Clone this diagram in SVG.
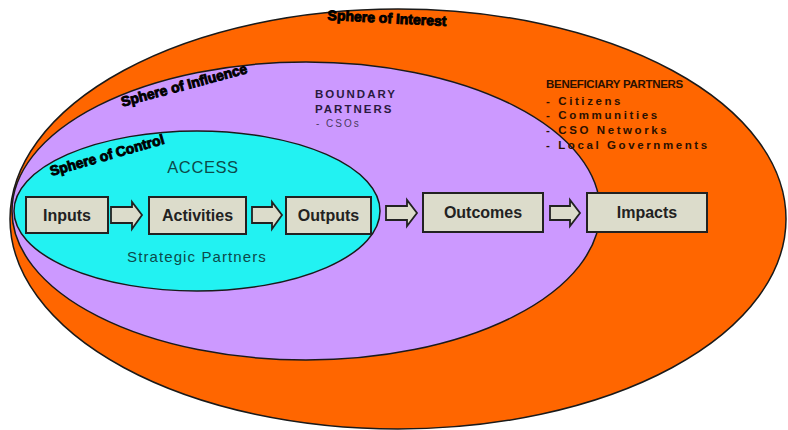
<svg xmlns="http://www.w3.org/2000/svg" width="788" height="430" viewBox="0 0 788 430">
<defs>
<style>
.sphere{stroke:#1a1a1a;stroke-width:1.5}
.box{fill:#dcdccb;stroke:#222;stroke-width:2}
.blbl{font-family:"Liberation Sans",Arial,sans-serif;font-size:16px;font-weight:bold;fill:#222;text-anchor:middle}
.arr{fill:#dcdccb;stroke:#222;stroke-width:1.8;stroke-linejoin:miter}
.curve{font-family:"Liberation Sans",Arial,sans-serif;font-size:14px;font-weight:bold;fill:#000;stroke:#000;stroke-width:0.9;text-anchor:middle}
.teal{font-family:"Liberation Sans",Arial,sans-serif;fill:#0c4a4a;text-anchor:middle}
.bp{font-family:"Liberation Sans",Arial,sans-serif;font-weight:bold;fill:#2a1a40;letter-spacing:2px;font-size:11.5px}
.ben{font-family:"Liberation Sans",Arial,sans-serif;font-weight:bold;fill:#2a1000;font-size:11.5px}
</style>
</defs>
<rect width="788" height="430" fill="#ffffff"/>
<g id="sphere-interest">
<ellipse class="sphere" cx="398" cy="219" rx="388" ry="210" fill="#ff6600"/>
<text class="curve" x="387" y="23" font-size="14.5" transform="rotate(3 387 18)">Sphere of Interest</text>
</g>
<g id="sphere-influence">
<ellipse class="sphere" cx="306" cy="211" rx="294" ry="149" fill="#cc99ff"/>
<text class="curve" x="184" y="90" transform="rotate(-15 184 85)">Sphere of Influence</text>
</g>
<g id="sphere-control">
<ellipse class="sphere" cx="197" cy="211" rx="183" ry="80" fill="#22f2f2" stroke="#0a3a5a"/>
<text class="curve" x="107" y="160" font-size="14.5" transform="rotate(-16 107 155)">Sphere of Control</text>
</g>
<g id="access-label"><text class="teal" x="203" y="173" font-size="16.5" letter-spacing="0.6">ACCESS</text></g>
<g id="strategic-label"><text class="teal" x="197" y="262" font-size="15" letter-spacing="1.1">Strategic Partners</text></g>
<g id="boundary-partners">
<text class="bp" x="315" y="98">BOUNDARY</text>
<text class="bp" x="315" y="113">PARTNERS</text>
<text x="316" y="127" font-family="'Liberation Sans',Arial,sans-serif" font-size="10" fill="#4a3a60" letter-spacing="2">- CSOs</text>
</g>
<g id="beneficiary-partners">
<text class="ben" x="546" y="88" font-size="12" letter-spacing="-0.3">BENEFICIARY PARTNERS</text>
<text class="ben" x="546" y="105" letter-spacing="2.6">- Citizens</text>
<text class="ben" x="546" y="119" letter-spacing="2.6">- Communities</text>
<text class="ben" x="546" y="134" letter-spacing="2.6">- CSO Networks</text>
<text class="ben" x="546" y="149" letter-spacing="2.6">- Local Governments</text>
</g>
<g id="inputs"><rect class="box" x="26" y="197" width="82" height="36"/><text class="blbl" x="67" y="221">Inputs</text></g>
<g id="activities"><rect class="box" x="149" y="197" width="97" height="37"/><text class="blbl" x="197.5" y="221">Activities</text></g>
<g id="outputs"><rect class="box" x="286" y="197" width="85" height="37"/><text class="blbl" x="328.5" y="221">Outputs</text></g>
<g id="outcomes"><rect class="box" x="423" y="193" width="120" height="39"/><text class="blbl" x="483" y="218">Outcomes</text></g>
<g id="impacts"><rect class="box" x="587" y="193" width="120" height="39"/><text class="blbl" x="647" y="218">Impacts</text></g>
<g id="connectors">
<path class="arr" d="M111 207 H132 V202 L142 215 L132 229 V223 H111 Z"/>
<path class="arr" d="M252 207 H272 V202 L282 215 L272 229 V223 H252 Z"/>
<path class="arr" d="M386 206 H407 V200 L417 213 L407 226 V220 H386 Z"/>
<path class="arr" d="M550 206 H570 V200 L580 213 L570 226 V220 H550 Z"/>
</g>
</svg>
